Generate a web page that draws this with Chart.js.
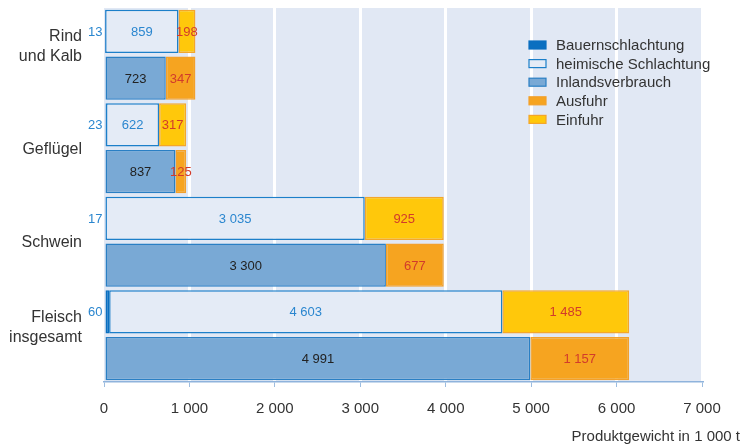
<!DOCTYPE html>
<html lang="de">
<head>
<meta charset="utf-8">
<title>Fleisch – Erzeugung und Verbrauch</title>
<script src="https://cdn.jsdelivr.net/npm/chart.js"></script>
<style>
  html, body { margin: 0; padding: 0; background: #fff; }
  #wrap { width: 742px; height: 446px; }
</style>
</head>
<body>
<div id="wrap"><canvas id="chart"></canvas></div>
<script>
// Gruppen (je zwei Balken: Aufkommen oben, Verwendung unten)
const groupLabels = [['Rind', 'und Kalb'], ['Geflügel'], ['Schwein'], ['Fleisch', 'insgesamt']];

// Werte in 1 000 t Produktgewicht
const bauernschlachtung = [13, 23, 17, 60];
const heimischeSchlachtung = [859, 622, 3035, 4603];
const einfuhr = [198, 317, 925, 1485];
const inlandsverbrauch = [723, 837, 3300, 4991];
const ausfuhr = [347, 125, 677, 1157];

const xTicks = [0, 1000, 2000, 3000, 4000, 5000, 6000, 7000];
const axisTitle = 'Produktgewicht in 1 000 t';

const FONT = '"Liberation Sans", Arial, sans-serif';
const BLUE_TEXT = '#2a86cf';
const RED_TEXT = '#d23b2b';

// Zeilen aufbauen: obere Zeile = Aufkommen, untere = Verwendung
const rowLabels = [];
groupLabels.forEach(g => { rowLabels.push(g.join(' ') + ' Aufkommen'); rowLabels.push(g.join(' ') + ' Verwendung'); });
const topRow = arr => arr.flatMap(v => [v, null]);
const bottomRow = arr => arr.flatMap(v => [null, v]);

function fmt(v) {
  return String(v).replace(/\B(?=(\d{3})+(?!\d))/g, ' ');
}

const datasets = [
  { label: 'Bauernschlachtung', data: topRow(bauernschlachtung),
    backgroundColor: '#0a6fc0', borderColor: '#0a6fc0', textColor: BLUE_TEXT, outside: true },
  { label: 'heimische Schlachtung', data: topRow(heimischeSchlachtung),
    backgroundColor: '#e4ebf6', borderColor: '#1c7fc9', textColor: BLUE_TEXT },
  { label: 'Inlandsverbrauch', data: bottomRow(inlandsverbrauch),
    backgroundColor: '#79a9d5', borderColor: '#2a7fc4', textColor: '#222' },
  { label: 'Ausfuhr', data: bottomRow(ausfuhr),
    backgroundColor: '#f6a420', borderColor: '#f3a02a', textColor: RED_TEXT },
  { label: 'Einfuhr', data: topRow(einfuhr),
    backgroundColor: '#ffc80b', borderColor: '#f4a62a', textColor: RED_TEXT }
].map(d => Object.assign(d, {
  borderWidth: 1.5,
  borderSkipped: false,
  barPercentage: 0.92,
  categoryPercentage: 1.0
}));

// Hintergrund der Zeichenfläche
const plotBackground = {
  id: 'plotBackground',
  beforeDraw(chart) {
    const { ctx, chartArea: a } = chart;
    ctx.save();
    ctx.fillStyle = '#e1e8f4';
    ctx.fillRect(a.left, a.top, a.right - a.left, a.bottom - a.top);
    ctx.restore();
  }
};

// Werte, Gruppenbeschriftung, Legende, Achsentitel
const annotations = {
  id: 'annotations',
  afterDatasetsDraw(chart) {
    const { ctx, chartArea: a } = chart;
    const y = chart.scales.y;
    ctx.save();

    // Balkenwerte
    ctx.textBaseline = 'middle';
    chart.data.datasets.forEach((ds, i) => {
      const meta = chart.getDatasetMeta(i);
      meta.data.forEach((el, j) => {
        const v = ds.data[j];
        if (v == null) return;
        ctx.fillStyle = ds.textColor;
        ctx.font = '13px ' + FONT;
        if (ds.outside) {
          ctx.textAlign = 'right';
          ctx.fillText(fmt(v), el.base - 3, el.y + 1);
        } else {
          ctx.textAlign = 'center';
          ctx.fillText(fmt(v), (el.x + el.base) / 2, el.y + 1);
        }
      });
    });

    // Gruppenbeschriftung links
    ctx.fillStyle = '#333';
    ctx.font = '16px ' + FONT;
    ctx.textAlign = 'right';
    groupLabels.forEach((lines, g) => {
      const mid = (y.getPixelForValue(2 * g) + y.getPixelForValue(2 * g + 1)) / 2;
      const lh = 20;
      const start = lines.length > 1 ? mid - 8 - lh / 2 : mid + 1;
      lines.forEach((t, k) => ctx.fillText(t, 82, start + k * lh));
    });

    // Legende
    const lx = a.right - 173, ly = 45, step = 18.6;
    ctx.font = '15px ' + FONT;
    ctx.textAlign = 'left';
    chart.data.datasets.forEach((ds, i) => {
      const cy = ly + i * step;
      ctx.fillStyle = ds.backgroundColor;
      ctx.fillRect(lx, cy - 4, 17, 8);
      ctx.strokeStyle = ds.borderColor;
      ctx.lineWidth = 1.2;
      ctx.strokeRect(lx, cy - 4, 17, 8);
      ctx.fillStyle = '#333';
      ctx.fillText(ds.label, lx + 27, cy + 1);
    });

    // Achsentitel
    ctx.font = '15px ' + FONT;
    ctx.textAlign = 'right';
    ctx.fillStyle = '#333';
    ctx.fillText(axisTitle, chart.width - 2, 437);
    ctx.restore();
  }
};

new Chart(document.getElementById('chart'), {
  type: 'bar',
  data: { labels: rowLabels, datasets },
  options: {
    indexAxis: 'y',
    responsive: true,
    maintainAspectRatio: false,
    animation: false,
    layout: { padding: { left: 104, right: 40, top: 8, bottom: 15 } },
    plugins: {
      legend: { display: false },
      tooltip: { enabled: false }
    },
    scales: {
      x: {
        stacked: true,
        min: xTicks[0],
        max: xTicks[xTicks.length - 1],
        afterBuildTicks: scale => { scale.ticks = xTicks.map(v => ({ value: v })); },
        ticks: {
          callback: v => fmt(v),
          color: '#333',
          font: { family: FONT, size: 15 },
          padding: 13,
          maxRotation: 0
        },
        grid: {
          color: ctx => ctx.index === 0 ? 'rgba(0,0,0,0)' : '#ffffff',
          lineWidth: 3,
          tickColor: '#9dbde0',
          tickWidth: 1,
          tickLength: 5
        },
        border: { display: true, color: '#8fb3dc', width: 1.5 }
      },
      y: {
        stacked: true,
        display: false
      }
    }
  },
  plugins: [plotBackground, annotations]
});
</script>
</body>
</html>
